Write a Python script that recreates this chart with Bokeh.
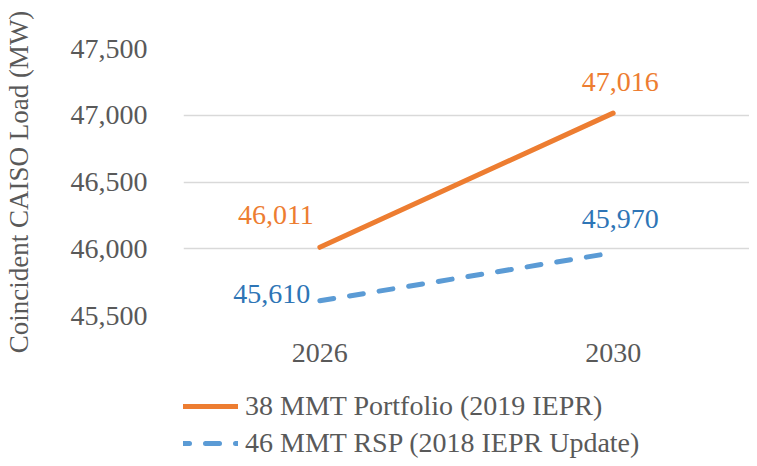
from bokeh.plotting import figure
from bokeh.layouts import column
from bokeh.models import FactorRange, Range1d, Legend, LegendItem, Label, NumeralTickFormatter, FixedTicker
from bokeh.embed import file_html
from bokeh.resources import INLINE

years = ["2026", "2030"]
portfolio_38 = [46011, 47016]
rsp_46 = [45610, 45970]
y_ticks = [45500, 46000, 46500, 47000, 47500]
series_names = ["38 MMT Portfolio (2019 IEPR)", "46 MMT RSP (2018 IEPR Update)"]

FONT = "Liberation Serif"
GREY = "#595959"
ORANGE = "#ED7D31"
BLUE = "#5B9BD5"

p = figure(width=749, height=378, x_range=FactorRange(*years, range_padding=-0.035),
           y_range=Range1d(45500, 47500), output_backend="svg", toolbar_location=None,
           min_border_left=170, min_border_top=48, min_border_right=0, min_border_bottom=63)
p.outline_line_color = None

line_styles = [dict(line_color=ORANGE, line_width=5, line_cap="round"),
               dict(line_color=BLUE, line_width=5, line_dash="14 16", line_cap="round")]
p.line(years, portfolio_38, **line_styles[0])
p.line(years, rsp_46, **line_styles[1])

# axes
p.yaxis.ticker = FixedTicker(ticks=y_ticks)
p.yaxis.formatter = NumeralTickFormatter(format="0,0")
p.yaxis.axis_label = "Coincident CAISO Load (MW)"
for ax in (p.xaxis, p.yaxis):
    ax.axis_line_color = None
    ax.major_tick_line_color = None
    ax.minor_tick_line_color = None
    ax.major_label_text_font = FONT
    ax.major_label_text_font_size = "28px"
    ax.major_label_text_color = GREY
    ax.axis_label_text_font = FONT
    ax.axis_label_text_font_size = "27px"
    ax.axis_label_text_color = GREY
    ax.axis_label_text_font_style = "normal"
p.yaxis.major_label_standoff = 30
p.yaxis.axis_label_standoff = 34
p.xaxis.major_label_standoff = 22
p.xgrid.grid_line_color = None
p.ygrid.grid_line_color = "#D9D9D9"
p.ygrid.grid_line_width = 1.5

# data labels
def add_labels(vals, color, offsets):
    for yr, v, (dx, dy) in zip(years, vals, offsets):
        p.add_layout(Label(x=years.index(yr) + 0.5, y=v, text=f"{v:,}", x_offset=dx, y_offset=dy,
                           text_align="center", text_baseline="middle", text_font=FONT,
                           text_font_size="28px", text_color=color))

add_labels(portfolio_38, ORANGE, [(-44, 32), (7, 31)])
add_labels(rsp_46, "#2E75B6", [(-48, 7), (7, 34)])

# legend strip (series drawn out of view; only the legend shows)
lg = figure(width=749, height=80, x_range=FactorRange(*years), y_range=Range1d(0, 1),
            output_backend="svg", toolbar_location=None,
            min_border_left=0, min_border_right=0, min_border_top=0, min_border_bottom=0)
lg.axis.visible = False
lg.grid.grid_line_color = None
lg.outline_line_color = None
l1 = lg.line(years, portfolio_38, **line_styles[0])
l2 = lg.line(years, rsp_46, **line_styles[1])

legend = Legend(items=[LegendItem(label=series_names[0], renderers=[l1]),
                       LegendItem(label=series_names[1], renderers=[l2])],
                location=(-8, -2), orientation="vertical",
                label_text_font=FONT, label_text_font_size="28px", label_text_color=GREY,
                glyph_width=63, glyph_height=34, label_standoff=7, spacing=3,
                border_line_color=None, background_fill_alpha=0, padding=0, margin=0)
lg.add_layout(legend, "center")

layout = column(p, lg, spacing=0)
open("out.html", "w").write(file_html(layout, INLINE))
